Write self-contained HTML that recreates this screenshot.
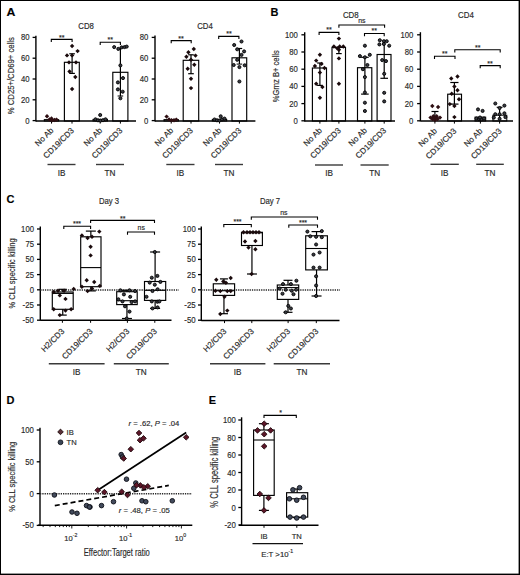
<!DOCTYPE html>
<html><head><meta charset="utf-8"><style>
html,body{margin:0;padding:0;background:#fff;}
body{width:520px;height:575px;overflow:hidden;}
svg{display:block;font-family:"Liberation Sans", sans-serif;}
text{stroke:#2a2a2a;stroke-width:0.16px;}
</style></head><body>
<svg width="520" height="575" viewBox="0 0 520 575">
<rect x="0" y="0" width="520" height="575" fill="#fff"/>
<rect x="0" y="0" width="520" height="1" fill="#000"/>
<rect x="0" y="0" width="1" height="575" fill="#000"/>
<rect x="518.6" y="0" width="1.4" height="575" fill="#000"/>
<rect x="0" y="573.6" width="520" height="1.4" fill="#000"/>
<text x="6.6" y="16.2" font-size="11.3" text-anchor="start" font-weight="bold" fill="#000" textLength="8.9" lengthAdjust="spacingAndGlyphs">A</text>
<text x="270.6" y="16.2" font-size="11" text-anchor="start" font-weight="bold" fill="#000">B</text>
<text x="6.6" y="203.2" font-size="11" text-anchor="start" font-weight="bold" fill="#000">C</text>
<text x="6.6" y="403.8" font-size="11" text-anchor="start" font-weight="bold" fill="#000">D</text>
<text x="208.8" y="403.8" font-size="11" text-anchor="start" font-weight="bold" fill="#000">E</text>
<text x="86.1" y="29" font-size="8.4" text-anchor="middle" font-weight="normal" fill="#2a2a2a" textLength="15.6" lengthAdjust="spacingAndGlyphs">CD8</text>
<line x1="35.9" y1="35.8" x2="35.9" y2="121.6" stroke="#000" stroke-width="1.4" stroke-linecap="butt"/>
<line x1="32.6" y1="120.6" x2="35.9" y2="120.6" stroke="#000" stroke-width="1.3" stroke-linecap="butt"/>
<text x="29.5" y="123.6" font-size="9" text-anchor="end" font-weight="normal" fill="#2a2a2a" textLength="4.3" lengthAdjust="spacingAndGlyphs">0</text>
<line x1="32.6" y1="99.8" x2="35.9" y2="99.8" stroke="#000" stroke-width="1.3" stroke-linecap="butt"/>
<text x="29.5" y="102.8" font-size="9" text-anchor="end" font-weight="normal" fill="#2a2a2a" textLength="8.6" lengthAdjust="spacingAndGlyphs">20</text>
<line x1="32.6" y1="79" x2="35.9" y2="79" stroke="#000" stroke-width="1.3" stroke-linecap="butt"/>
<text x="29.5" y="82" font-size="9" text-anchor="end" font-weight="normal" fill="#2a2a2a" textLength="8.6" lengthAdjust="spacingAndGlyphs">40</text>
<line x1="32.6" y1="58.2" x2="35.9" y2="58.2" stroke="#000" stroke-width="1.3" stroke-linecap="butt"/>
<text x="29.5" y="61.2" font-size="9" text-anchor="end" font-weight="normal" fill="#2a2a2a" textLength="8.6" lengthAdjust="spacingAndGlyphs">60</text>
<line x1="32.6" y1="37.4" x2="35.9" y2="37.4" stroke="#000" stroke-width="1.3" stroke-linecap="butt"/>
<text x="29.5" y="40.4" font-size="9" text-anchor="end" font-weight="normal" fill="#2a2a2a" textLength="8.6" lengthAdjust="spacingAndGlyphs">80</text>
<rect x="44.3" y="119.6" width="14.4" height="1.4" fill="none" stroke="#000" stroke-width="1"/>
<rect x="93" y="119.4" width="14.5" height="1.6" fill="none" stroke="#000" stroke-width="1"/>
<rect x="64.4" y="62.3" width="14.9" height="58.7" fill="none" stroke="#000" stroke-width="1.15"/>
<rect x="112.8" y="72.3" width="15.1" height="48.7" fill="none" stroke="#000" stroke-width="1.15"/>
<line x1="35.9" y1="121" x2="136" y2="121" stroke="#000" stroke-width="1.4" stroke-linecap="butt"/>
<line x1="51.5" y1="121" x2="51.5" y2="123.6" stroke="#000" stroke-width="1" stroke-linecap="butt"/>
<line x1="72" y1="121" x2="72" y2="123.6" stroke="#000" stroke-width="1" stroke-linecap="butt"/>
<line x1="100.2" y1="121" x2="100.2" y2="123.6" stroke="#000" stroke-width="1" stroke-linecap="butt"/>
<line x1="120.4" y1="121" x2="120.4" y2="123.6" stroke="#000" stroke-width="1" stroke-linecap="butt"/>
<line x1="72.1" y1="53.8" x2="72.1" y2="73.4" stroke="#000" stroke-width="1.2" stroke-linecap="butt"/>
<line x1="69.3" y1="53.8" x2="74.9" y2="53.8" stroke="#000" stroke-width="1.2" stroke-linecap="butt"/>
<line x1="69.3" y1="73.4" x2="74.9" y2="73.4" stroke="#000" stroke-width="1.2" stroke-linecap="butt"/>
<line x1="120.4" y1="47.4" x2="120.4" y2="96" stroke="#000" stroke-width="1.2" stroke-linecap="butt"/>
<line x1="117.6" y1="96" x2="123.2" y2="96" stroke="#000" stroke-width="1" stroke-linecap="butt"/>
<path d="M72.1 43.8L74.3 46L72.1 48.2L69.9 46Z" fill="#1a0a0c"/>
<path d="M77.6 48.9L79.8 51.1L77.6 53.3L75.4 51.1Z" fill="#1a0a0c"/>
<path d="M67 53.2L69.2 55.4L67 57.6L64.8 55.4Z" fill="#1a0a0c"/>
<path d="M72.1 53.2L74.3 55.4L72.1 57.6L69.9 55.4Z" fill="#1a0a0c"/>
<path d="M69 60.2L71.2 62.4L69 64.6L66.8 62.4Z" fill="#1a0a0c"/>
<path d="M76 60.2L78.2 62.4L76 64.6L73.8 62.4Z" fill="#1a0a0c"/>
<path d="M69.5 69.3L71.7 71.5L69.5 73.7L67.3 71.5Z" fill="#1a0a0c"/>
<path d="M75.3 74.8L77.5 77L75.3 79.2L73.1 77Z" fill="#1a0a0c"/>
<path d="M72.1 86.8L74.3 89L72.1 91.2L69.9 89Z" fill="#1a0a0c"/>
<path d="M47 114L49.2 116.2L47 118.4L44.8 116.2Z" fill="#2e0e12"/>
<path d="M49.5 117.3L51.7 119.5L49.5 121.7L47.3 119.5Z" fill="#2e0e12"/>
<path d="M52 118.1L54.2 120.3L52 122.5L49.8 120.3Z" fill="#2e0e12"/>
<path d="M54.5 117.8L56.7 120L54.5 122.2L52.3 120Z" fill="#2e0e12"/>
<path d="M56.5 117.4L58.7 119.6L56.5 121.8L54.3 119.6Z" fill="#2e0e12"/>
<path d="M51.5 116.3L53.7 118.5L51.5 120.7L49.3 118.5Z" fill="#2e0e12"/>
<circle cx="114.2" cy="47.1" r="1.55" fill="#3a3c44" stroke="#000" stroke-width="0.9"/>
<circle cx="118.3" cy="48.9" r="1.55" fill="#3a3c44" stroke="#000" stroke-width="0.9"/>
<circle cx="121.6" cy="47.4" r="1.55" fill="#3a3c44" stroke="#000" stroke-width="0.9"/>
<circle cx="124.5" cy="47.1" r="1.55" fill="#3a3c44" stroke="#000" stroke-width="0.9"/>
<circle cx="126.7" cy="46.6" r="1.55" fill="#3a3c44" stroke="#000" stroke-width="0.9"/>
<circle cx="120.4" cy="65.4" r="1.55" fill="#3a3c44" stroke="#000" stroke-width="0.9"/>
<circle cx="123" cy="78.1" r="1.55" fill="#3a3c44" stroke="#000" stroke-width="0.9"/>
<circle cx="117.9" cy="82.4" r="1.55" fill="#3a3c44" stroke="#000" stroke-width="0.9"/>
<circle cx="117.9" cy="89.4" r="1.55" fill="#3a3c44" stroke="#000" stroke-width="0.9"/>
<circle cx="122.7" cy="91.7" r="1.55" fill="#3a3c44" stroke="#000" stroke-width="0.9"/>
<circle cx="120.4" cy="98.3" r="1.55" fill="#3a3c44" stroke="#000" stroke-width="0.9"/>
<circle cx="100.2" cy="115" r="1.55" fill="#3a3c44" stroke="#000" stroke-width="0.9"/>
<circle cx="95.5" cy="119.3" r="1.55" fill="#3a3c44" stroke="#000" stroke-width="0.9"/>
<circle cx="98" cy="120.3" r="1.55" fill="#3a3c44" stroke="#000" stroke-width="0.9"/>
<circle cx="100.5" cy="120.6" r="1.55" fill="#3a3c44" stroke="#000" stroke-width="0.9"/>
<circle cx="103" cy="120.2" r="1.55" fill="#3a3c44" stroke="#000" stroke-width="0.9"/>
<circle cx="105.5" cy="119.3" r="1.55" fill="#3a3c44" stroke="#000" stroke-width="0.9"/>
<polyline points="51.3,42.1 51.3,39.4 72.1,39.4 72.1,42.1" fill="none" stroke="#000" stroke-width="1.1"/>
<text x="61.7" y="39.6" font-size="7" text-anchor="middle" font-weight="normal" fill="#222">**</text>
<polyline points="100.2,45 100.2,42.3 120.4,42.3 120.4,45" fill="none" stroke="#000" stroke-width="1.1"/>
<text x="110.3" y="42.2" font-size="7" text-anchor="middle" font-weight="normal" fill="#222">**</text>
<text x="54.1" y="131" font-size="8.2" text-anchor="end" font-weight="normal" fill="#2a2a2a" transform="rotate(-45 54.1 131)">No Ab</text>
<text x="74.6" y="131" font-size="8.2" text-anchor="end" font-weight="normal" fill="#2a2a2a" transform="rotate(-45 74.6 131)">CD19/CD3</text>
<text x="102.8" y="131" font-size="8.2" text-anchor="end" font-weight="normal" fill="#2a2a2a" transform="rotate(-45 102.8 131)">No Ab</text>
<text x="123" y="131" font-size="8.2" text-anchor="end" font-weight="normal" fill="#2a2a2a" transform="rotate(-45 123 131)">CD19/CD3</text>
<line x1="47.5" y1="164.5" x2="75.5" y2="164.5" stroke="#3a3a3a" stroke-width="1.4" stroke-linecap="butt"/>
<text x="61.5" y="176" font-size="8.2" text-anchor="middle" font-weight="normal" fill="#2a2a2a">IB</text>
<line x1="96" y1="164.5" x2="124" y2="164.5" stroke="#3a3a3a" stroke-width="1.4" stroke-linecap="butt"/>
<text x="110" y="176" font-size="8.2" text-anchor="middle" font-weight="normal" fill="#2a2a2a">TN</text>
<text x="14.2" y="75.7" font-size="8.8" text-anchor="middle" font-weight="normal" fill="#2a2a2a" transform="rotate(-90 14.2 75.7)" textLength="77" lengthAdjust="spacingAndGlyphs">% CD25+/CD69+ cells</text>
<text x="205" y="29" font-size="8.4" text-anchor="middle" font-weight="normal" fill="#2a2a2a" textLength="15.6" lengthAdjust="spacingAndGlyphs">CD4</text>
<line x1="155" y1="35.5" x2="155" y2="121.6" stroke="#000" stroke-width="1.4" stroke-linecap="butt"/>
<line x1="151.7" y1="120.6" x2="155" y2="120.6" stroke="#000" stroke-width="1.3" stroke-linecap="butt"/>
<text x="148.4" y="123.6" font-size="9" text-anchor="end" font-weight="normal" fill="#2a2a2a" textLength="4.3" lengthAdjust="spacingAndGlyphs">0</text>
<line x1="151.7" y1="99.8" x2="155" y2="99.8" stroke="#000" stroke-width="1.3" stroke-linecap="butt"/>
<text x="148.4" y="102.8" font-size="9" text-anchor="end" font-weight="normal" fill="#2a2a2a" textLength="8.6" lengthAdjust="spacingAndGlyphs">20</text>
<line x1="151.7" y1="79" x2="155" y2="79" stroke="#000" stroke-width="1.3" stroke-linecap="butt"/>
<text x="148.4" y="82" font-size="9" text-anchor="end" font-weight="normal" fill="#2a2a2a" textLength="8.6" lengthAdjust="spacingAndGlyphs">40</text>
<line x1="151.7" y1="58.2" x2="155" y2="58.2" stroke="#000" stroke-width="1.3" stroke-linecap="butt"/>
<text x="148.4" y="61.2" font-size="9" text-anchor="end" font-weight="normal" fill="#2a2a2a" textLength="8.6" lengthAdjust="spacingAndGlyphs">60</text>
<line x1="151.7" y1="37.4" x2="155" y2="37.4" stroke="#000" stroke-width="1.3" stroke-linecap="butt"/>
<text x="148.4" y="40.4" font-size="9" text-anchor="end" font-weight="normal" fill="#2a2a2a" textLength="8.6" lengthAdjust="spacingAndGlyphs">80</text>
<rect x="164" y="119.6" width="14.4" height="1.4" fill="none" stroke="#000" stroke-width="1"/>
<rect x="212.3" y="119.4" width="14.4" height="1.6" fill="none" stroke="#000" stroke-width="1"/>
<rect x="183.2" y="60.3" width="15.5" height="60.7" fill="none" stroke="#000" stroke-width="1.15"/>
<rect x="232" y="57.8" width="14.7" height="63.2" fill="none" stroke="#000" stroke-width="1.15"/>
<line x1="155" y1="121" x2="255.4" y2="121" stroke="#000" stroke-width="1.4" stroke-linecap="butt"/>
<line x1="171.2" y1="121" x2="171.2" y2="123.6" stroke="#000" stroke-width="1" stroke-linecap="butt"/>
<line x1="191" y1="121" x2="191" y2="123.6" stroke="#000" stroke-width="1" stroke-linecap="butt"/>
<line x1="219.5" y1="121" x2="219.5" y2="123.6" stroke="#000" stroke-width="1" stroke-linecap="butt"/>
<line x1="239.4" y1="121" x2="239.4" y2="123.6" stroke="#000" stroke-width="1" stroke-linecap="butt"/>
<line x1="191" y1="54.8" x2="191" y2="73.7" stroke="#000" stroke-width="1.2" stroke-linecap="butt"/>
<line x1="188.2" y1="54.8" x2="193.8" y2="54.8" stroke="#000" stroke-width="1.2" stroke-linecap="butt"/>
<line x1="188.2" y1="73.7" x2="193.8" y2="73.7" stroke="#000" stroke-width="1.2" stroke-linecap="butt"/>
<line x1="239.4" y1="48.5" x2="239.4" y2="64.1" stroke="#000" stroke-width="1.2" stroke-linecap="butt"/>
<line x1="236.6" y1="48.5" x2="242.2" y2="48.5" stroke="#000" stroke-width="1.2" stroke-linecap="butt"/>
<line x1="236.6" y1="64.1" x2="242.2" y2="64.1" stroke="#000" stroke-width="1" stroke-linecap="butt"/>
<path d="M193.8 46.8L196 49L193.8 51.2L191.6 49Z" fill="#1a0a0c"/>
<path d="M188.4 50.1L190.6 52.3L188.4 54.5L186.2 52.3Z" fill="#1a0a0c"/>
<path d="M195.5 53.4L197.7 55.6L195.5 57.8L193.3 55.6Z" fill="#1a0a0c"/>
<path d="M186.4 54.5L188.6 56.7L186.4 58.9L184.2 56.7Z" fill="#1a0a0c"/>
<path d="M191 57.5L193.2 59.7L191 61.9L188.8 59.7Z" fill="#1a0a0c"/>
<path d="M194.3 62.5L196.5 64.7L194.3 66.9L192.1 64.7Z" fill="#1a0a0c"/>
<path d="M187.7 66.6L189.9 68.8L187.7 71L185.5 68.8Z" fill="#1a0a0c"/>
<path d="M191 76.5L193.2 78.7L191 80.9L188.8 78.7Z" fill="#1a0a0c"/>
<path d="M191 85.9L193.2 88.1L191 90.3L188.8 88.1Z" fill="#1a0a0c"/>
<path d="M166.6 114.4L168.8 116.6L166.6 118.8L164.4 116.6Z" fill="#2e0e12"/>
<path d="M169 117.2L171.2 119.4L169 121.6L166.8 119.4Z" fill="#2e0e12"/>
<path d="M171.5 118.1L173.7 120.3L171.5 122.5L169.3 120.3Z" fill="#2e0e12"/>
<path d="M174 118L176.2 120.2L174 122.4L171.8 120.2Z" fill="#2e0e12"/>
<path d="M176.3 117.4L178.5 119.6L176.3 121.8L174.1 119.6Z" fill="#2e0e12"/>
<circle cx="241.5" cy="41.5" r="1.55" fill="#3a3c44" stroke="#000" stroke-width="0.9"/>
<circle cx="234.2" cy="45" r="1.55" fill="#3a3c44" stroke="#000" stroke-width="0.9"/>
<circle cx="237.2" cy="49.3" r="1.55" fill="#3a3c44" stroke="#000" stroke-width="0.9"/>
<circle cx="244.1" cy="51.4" r="1.55" fill="#3a3c44" stroke="#000" stroke-width="0.9"/>
<circle cx="241.5" cy="54.9" r="1.55" fill="#3a3c44" stroke="#000" stroke-width="0.9"/>
<circle cx="237.2" cy="59.8" r="1.55" fill="#3a3c44" stroke="#000" stroke-width="0.9"/>
<circle cx="233.7" cy="65" r="1.55" fill="#3a3c44" stroke="#000" stroke-width="0.9"/>
<circle cx="239.4" cy="67.1" r="1.55" fill="#3a3c44" stroke="#000" stroke-width="0.9"/>
<circle cx="244.7" cy="65.3" r="1.55" fill="#3a3c44" stroke="#000" stroke-width="0.9"/>
<circle cx="239.4" cy="81.5" r="1.55" fill="#3a3c44" stroke="#000" stroke-width="0.9"/>
<circle cx="220.7" cy="116.3" r="1.55" fill="#3a3c44" stroke="#000" stroke-width="0.9"/>
<circle cx="214.5" cy="119.5" r="1.55" fill="#3a3c44" stroke="#000" stroke-width="0.9"/>
<circle cx="217" cy="120.3" r="1.55" fill="#3a3c44" stroke="#000" stroke-width="0.9"/>
<circle cx="219.5" cy="120.5" r="1.55" fill="#3a3c44" stroke="#000" stroke-width="0.9"/>
<circle cx="222" cy="119.4" r="1.55" fill="#3a3c44" stroke="#000" stroke-width="0.9"/>
<circle cx="224.5" cy="118.6" r="1.55" fill="#3a3c44" stroke="#000" stroke-width="0.9"/>
<polyline points="171.2,43.3 171.2,40.6 191.2,40.6 191.2,43.3" fill="none" stroke="#000" stroke-width="1.1"/>
<text x="181.1" y="40.6" font-size="7" text-anchor="middle" font-weight="normal" fill="#222">**</text>
<polyline points="218.7,39.1 218.7,36.4 238.9,36.4 238.9,39.1" fill="none" stroke="#000" stroke-width="1.1"/>
<text x="229" y="36.4" font-size="7" text-anchor="middle" font-weight="normal" fill="#222">**</text>
<text x="173.8" y="131" font-size="8.2" text-anchor="end" font-weight="normal" fill="#2a2a2a" transform="rotate(-45 173.8 131)">No Ab</text>
<text x="193.6" y="131" font-size="8.2" text-anchor="end" font-weight="normal" fill="#2a2a2a" transform="rotate(-45 193.6 131)">CD19/CD3</text>
<text x="222.1" y="131" font-size="8.2" text-anchor="end" font-weight="normal" fill="#2a2a2a" transform="rotate(-45 222.1 131)">No Ab</text>
<text x="242" y="131" font-size="8.2" text-anchor="end" font-weight="normal" fill="#2a2a2a" transform="rotate(-45 242 131)">CD19/CD3</text>
<line x1="166.3" y1="164.5" x2="194.5" y2="164.5" stroke="#3a3a3a" stroke-width="1.4" stroke-linecap="butt"/>
<text x="180.4" y="176" font-size="8.2" text-anchor="middle" font-weight="normal" fill="#2a2a2a">IB</text>
<line x1="215" y1="164.5" x2="243" y2="164.5" stroke="#3a3a3a" stroke-width="1.4" stroke-linecap="butt"/>
<text x="229" y="176" font-size="8.2" text-anchor="middle" font-weight="normal" fill="#2a2a2a">TN</text>
<text x="350.8" y="17.6" font-size="8.4" text-anchor="middle" font-weight="normal" fill="#2a2a2a" textLength="15.8" lengthAdjust="spacingAndGlyphs">CD8</text>
<text x="361.8" y="23" font-size="6.9" text-anchor="middle" font-weight="normal" fill="#2a2a2a">ns</text>
<line x1="304.7" y1="32.2" x2="304.7" y2="121.6" stroke="#000" stroke-width="1.4" stroke-linecap="butt"/>
<line x1="301.4" y1="120.8" x2="304.7" y2="120.8" stroke="#000" stroke-width="1.3" stroke-linecap="butt"/>
<text x="297.8" y="123.8" font-size="9" text-anchor="end" font-weight="normal" fill="#2a2a2a" textLength="4.3" lengthAdjust="spacingAndGlyphs">0</text>
<line x1="301.4" y1="103.6" x2="304.7" y2="103.6" stroke="#000" stroke-width="1.3" stroke-linecap="butt"/>
<text x="297.8" y="106.6" font-size="9" text-anchor="end" font-weight="normal" fill="#2a2a2a" textLength="8.6" lengthAdjust="spacingAndGlyphs">20</text>
<line x1="301.4" y1="86.4" x2="304.7" y2="86.4" stroke="#000" stroke-width="1.3" stroke-linecap="butt"/>
<text x="297.8" y="89.4" font-size="9" text-anchor="end" font-weight="normal" fill="#2a2a2a" textLength="8.6" lengthAdjust="spacingAndGlyphs">40</text>
<line x1="301.4" y1="69.2" x2="304.7" y2="69.2" stroke="#000" stroke-width="1.3" stroke-linecap="butt"/>
<text x="297.8" y="72.2" font-size="9" text-anchor="end" font-weight="normal" fill="#2a2a2a" textLength="8.6" lengthAdjust="spacingAndGlyphs">60</text>
<line x1="301.4" y1="52" x2="304.7" y2="52" stroke="#000" stroke-width="1.3" stroke-linecap="butt"/>
<text x="297.8" y="55" font-size="9" text-anchor="end" font-weight="normal" fill="#2a2a2a" textLength="8.6" lengthAdjust="spacingAndGlyphs">80</text>
<line x1="301.4" y1="34.8" x2="304.7" y2="34.8" stroke="#000" stroke-width="1.3" stroke-linecap="butt"/>
<text x="297.8" y="37.8" font-size="9" text-anchor="end" font-weight="normal" fill="#2a2a2a" textLength="12.9" lengthAdjust="spacingAndGlyphs">100</text>
<rect x="312.4" y="68" width="14.1" height="53" fill="none" stroke="#000" stroke-width="1.15"/>
<rect x="332" y="47.4" width="13.5" height="73.6" fill="none" stroke="#000" stroke-width="1.15"/>
<rect x="357.5" y="67.7" width="14.3" height="53.3" fill="none" stroke="#000" stroke-width="1.15"/>
<rect x="377.1" y="54.5" width="13.9" height="66.5" fill="none" stroke="#000" stroke-width="1.15"/>
<line x1="304.5" y1="121" x2="395" y2="121" stroke="#000" stroke-width="1.4" stroke-linecap="butt"/>
<line x1="319.9" y1="121" x2="319.9" y2="123.6" stroke="#000" stroke-width="1" stroke-linecap="butt"/>
<line x1="338.9" y1="121" x2="338.9" y2="123.6" stroke="#000" stroke-width="1" stroke-linecap="butt"/>
<line x1="364.9" y1="121" x2="364.9" y2="123.6" stroke="#000" stroke-width="1" stroke-linecap="butt"/>
<line x1="384.2" y1="121" x2="384.2" y2="123.6" stroke="#000" stroke-width="1" stroke-linecap="butt"/>
<line x1="319.9" y1="63" x2="319.9" y2="85.4" stroke="#000" stroke-width="1.2" stroke-linecap="butt"/>
<line x1="317.1" y1="63" x2="322.7" y2="63" stroke="#000" stroke-width="1.2" stroke-linecap="butt"/>
<line x1="317.1" y1="85.4" x2="322.7" y2="85.4" stroke="#000" stroke-width="1.2" stroke-linecap="butt"/>
<line x1="338.9" y1="47.4" x2="338.9" y2="53.6" stroke="#000" stroke-width="1.2" stroke-linecap="butt"/>
<line x1="336.1" y1="53.6" x2="341.7" y2="53.6" stroke="#000" stroke-width="1.2" stroke-linecap="butt"/>
<line x1="364.9" y1="57.3" x2="364.9" y2="94.1" stroke="#000" stroke-width="1.2" stroke-linecap="butt"/>
<line x1="361.1" y1="57.3" x2="368.7" y2="57.3" stroke="#000" stroke-width="1.2" stroke-linecap="butt"/>
<line x1="361.1" y1="94.1" x2="368.7" y2="94.1" stroke="#000" stroke-width="1.2" stroke-linecap="butt"/>
<line x1="384.2" y1="45" x2="384.2" y2="78.3" stroke="#000" stroke-width="1.2" stroke-linecap="butt"/>
<line x1="380.4" y1="78.3" x2="388" y2="78.3" stroke="#000" stroke-width="1.2" stroke-linecap="butt"/>
<path d="M319.9 52.6L322.1 54.8L319.9 57L317.7 54.8Z" fill="#1a0a0c"/>
<path d="M316.2 58.4L318.4 60.6L316.2 62.8L314 60.6Z" fill="#1a0a0c"/>
<path d="M321.5 61.7L323.7 63.9L321.5 66.1L319.3 63.9Z" fill="#1a0a0c"/>
<path d="M314.9 63.8L317.1 66L314.9 68.2L312.7 66Z" fill="#1a0a0c"/>
<path d="M324.5 65.8L326.7 68L324.5 70.2L322.3 68Z" fill="#1a0a0c"/>
<path d="M319.9 70.4L322.1 72.6L319.9 74.8L317.7 72.6Z" fill="#1a0a0c"/>
<path d="M316.2 81.5L318.4 83.7L316.2 85.9L314 83.7Z" fill="#1a0a0c"/>
<path d="M322.4 84.8L324.6 87L322.4 89.2L320.2 87Z" fill="#1a0a0c"/>
<path d="M319.9 95.6L322.1 97.8L319.9 100L317.7 97.8Z" fill="#1a0a0c"/>
<path d="M338.9 36.4L341.1 38.6L338.9 40.8L336.7 38.6Z" fill="#1a0a0c"/>
<path d="M333.9 44.3L336.1 46.5L333.9 48.7L331.7 46.5Z" fill="#1a0a0c"/>
<path d="M337.2 46L339.4 48.2L337.2 50.4L335 48.2Z" fill="#1a0a0c"/>
<path d="M339.7 44.3L341.9 46.5L339.7 48.7L337.5 46.5Z" fill="#1a0a0c"/>
<path d="M343.3 44.3L345.5 46.5L343.3 48.7L341.1 46.5Z" fill="#1a0a0c"/>
<path d="M338.9 47.6L341.1 49.8L338.9 52L336.7 49.8Z" fill="#1a0a0c"/>
<path d="M338.9 56.2L341.1 58.4L338.9 60.6L336.7 58.4Z" fill="#1a0a0c"/>
<path d="M338.9 81.5L341.1 83.7L338.9 85.9L336.7 83.7Z" fill="#1a0a0c"/>
<circle cx="364.9" cy="45.7" r="1.55" fill="#3a3c44" stroke="#000" stroke-width="0.9"/>
<circle cx="359.9" cy="56.1" r="1.55" fill="#3a3c44" stroke="#000" stroke-width="0.9"/>
<circle cx="364.9" cy="57.3" r="1.55" fill="#3a3c44" stroke="#000" stroke-width="0.9"/>
<circle cx="369.8" cy="54.8" r="1.55" fill="#3a3c44" stroke="#000" stroke-width="0.9"/>
<circle cx="367.4" cy="65" r="1.55" fill="#3a3c44" stroke="#000" stroke-width="0.9"/>
<circle cx="362.9" cy="69.2" r="1.55" fill="#3a3c44" stroke="#000" stroke-width="0.9"/>
<circle cx="364.9" cy="77.1" r="1.55" fill="#3a3c44" stroke="#000" stroke-width="0.9"/>
<circle cx="364.9" cy="92.5" r="1.55" fill="#3a3c44" stroke="#000" stroke-width="0.9"/>
<circle cx="364.9" cy="102.7" r="1.55" fill="#3a3c44" stroke="#000" stroke-width="0.9"/>
<circle cx="364.9" cy="111" r="1.55" fill="#3a3c44" stroke="#000" stroke-width="0.9"/>
<circle cx="379.8" cy="40.2" r="1.55" fill="#3a3c44" stroke="#000" stroke-width="0.9"/>
<circle cx="383.9" cy="41.2" r="1.55" fill="#3a3c44" stroke="#000" stroke-width="0.9"/>
<circle cx="386.7" cy="41.2" r="1.55" fill="#3a3c44" stroke="#000" stroke-width="0.9"/>
<circle cx="379.4" cy="44.4" r="1.55" fill="#3a3c44" stroke="#000" stroke-width="0.9"/>
<circle cx="383.9" cy="44" r="1.55" fill="#3a3c44" stroke="#000" stroke-width="0.9"/>
<circle cx="389.2" cy="45.7" r="1.55" fill="#3a3c44" stroke="#000" stroke-width="0.9"/>
<circle cx="382.2" cy="60.1" r="1.55" fill="#3a3c44" stroke="#000" stroke-width="0.9"/>
<circle cx="386" cy="61.1" r="1.55" fill="#3a3c44" stroke="#000" stroke-width="0.9"/>
<circle cx="384.2" cy="73.8" r="1.55" fill="#3a3c44" stroke="#000" stroke-width="0.9"/>
<circle cx="384.2" cy="92.8" r="1.55" fill="#3a3c44" stroke="#000" stroke-width="0.9"/>
<circle cx="384.2" cy="101.4" r="1.55" fill="#3a3c44" stroke="#000" stroke-width="0.9"/>
<polyline points="319.1,35.1 319.1,32.4 338.9,32.4 338.9,35.1" fill="none" stroke="#000" stroke-width="1.1"/>
<text x="329" y="31.8" font-size="7" text-anchor="middle" font-weight="normal" fill="#222">**</text>
<polyline points="338.9,27.7 338.9,25 384.6,25 384.6,27.7" fill="none" stroke="#000" stroke-width="1.1"/>
<polyline points="364.5,36.2 364.5,33.5 384.2,33.5 384.2,36.2" fill="none" stroke="#000" stroke-width="1.1"/>
<text x="374.3" y="33.2" font-size="7" text-anchor="middle" font-weight="normal" fill="#222">**</text>
<text x="322.5" y="131" font-size="8.2" text-anchor="end" font-weight="normal" fill="#2a2a2a" transform="rotate(-45 322.5 131)">No Ab</text>
<text x="341.5" y="131" font-size="8.2" text-anchor="end" font-weight="normal" fill="#2a2a2a" transform="rotate(-45 341.5 131)">CD19/CD3</text>
<text x="367.5" y="131" font-size="8.2" text-anchor="end" font-weight="normal" fill="#2a2a2a" transform="rotate(-45 367.5 131)">No Ab</text>
<text x="386.8" y="131" font-size="8.2" text-anchor="end" font-weight="normal" fill="#2a2a2a" transform="rotate(-45 386.8 131)">CD19/CD3</text>
<line x1="315" y1="165" x2="343" y2="165" stroke="#3a3a3a" stroke-width="1.4" stroke-linecap="butt"/>
<text x="329" y="176.3" font-size="8.2" text-anchor="middle" font-weight="normal" fill="#2a2a2a">IB</text>
<line x1="360.5" y1="165" x2="388.7" y2="165" stroke="#3a3a3a" stroke-width="1.4" stroke-linecap="butt"/>
<text x="374.6" y="176.3" font-size="8.2" text-anchor="middle" font-weight="normal" fill="#2a2a2a">TN</text>
<text x="279.2" y="76.3" font-size="9.2" text-anchor="middle" font-weight="normal" fill="#2a2a2a" transform="rotate(-90 279.2 76.3)" textLength="52" lengthAdjust="spacingAndGlyphs">%Grnz B+ cells</text>
<text x="466" y="17.6" font-size="8.4" text-anchor="middle" font-weight="normal" fill="#2a2a2a" textLength="15.8" lengthAdjust="spacingAndGlyphs">CD4</text>
<line x1="420.4" y1="32.2" x2="420.4" y2="121.6" stroke="#000" stroke-width="1.4" stroke-linecap="butt"/>
<line x1="417.1" y1="120.8" x2="420.4" y2="120.8" stroke="#000" stroke-width="1.3" stroke-linecap="butt"/>
<text x="413.3" y="123.8" font-size="9" text-anchor="end" font-weight="normal" fill="#2a2a2a" textLength="4.3" lengthAdjust="spacingAndGlyphs">0</text>
<line x1="417.1" y1="103.6" x2="420.4" y2="103.6" stroke="#000" stroke-width="1.3" stroke-linecap="butt"/>
<text x="413.3" y="106.6" font-size="9" text-anchor="end" font-weight="normal" fill="#2a2a2a" textLength="8.6" lengthAdjust="spacingAndGlyphs">20</text>
<line x1="417.1" y1="86.4" x2="420.4" y2="86.4" stroke="#000" stroke-width="1.3" stroke-linecap="butt"/>
<text x="413.3" y="89.4" font-size="9" text-anchor="end" font-weight="normal" fill="#2a2a2a" textLength="8.6" lengthAdjust="spacingAndGlyphs">40</text>
<line x1="417.1" y1="69.2" x2="420.4" y2="69.2" stroke="#000" stroke-width="1.3" stroke-linecap="butt"/>
<text x="413.3" y="72.2" font-size="9" text-anchor="end" font-weight="normal" fill="#2a2a2a" textLength="8.6" lengthAdjust="spacingAndGlyphs">60</text>
<line x1="417.1" y1="52" x2="420.4" y2="52" stroke="#000" stroke-width="1.3" stroke-linecap="butt"/>
<text x="413.3" y="55" font-size="9" text-anchor="end" font-weight="normal" fill="#2a2a2a" textLength="8.6" lengthAdjust="spacingAndGlyphs">80</text>
<line x1="417.1" y1="34.8" x2="420.4" y2="34.8" stroke="#000" stroke-width="1.3" stroke-linecap="butt"/>
<text x="413.3" y="37.8" font-size="9" text-anchor="end" font-weight="normal" fill="#2a2a2a" textLength="12.9" lengthAdjust="spacingAndGlyphs">100</text>
<rect x="447.7" y="94.2" width="13.8" height="26.8" fill="none" stroke="#000" stroke-width="1.15"/>
<rect x="475" y="117.1" width="10.7" height="3.9" fill="none" stroke="#000" stroke-width="1"/>
<rect x="492.9" y="115.2" width="13.9" height="5.8" fill="none" stroke="#000" stroke-width="1"/>
<line x1="421" y1="121" x2="513" y2="121" stroke="#000" stroke-width="1.4" stroke-linecap="butt"/>
<line x1="434.9" y1="121" x2="434.9" y2="123.6" stroke="#000" stroke-width="1" stroke-linecap="butt"/>
<line x1="454.4" y1="121" x2="454.4" y2="123.6" stroke="#000" stroke-width="1" stroke-linecap="butt"/>
<line x1="480.4" y1="121" x2="480.4" y2="123.6" stroke="#000" stroke-width="1" stroke-linecap="butt"/>
<line x1="499.6" y1="121" x2="499.6" y2="123.6" stroke="#000" stroke-width="1" stroke-linecap="butt"/>
<line x1="434.9" y1="111.5" x2="434.9" y2="120" stroke="#000" stroke-width="1.2" stroke-linecap="butt"/>
<line x1="431.5" y1="111.5" x2="438.5" y2="111.5" stroke="#000" stroke-width="1.2" stroke-linecap="butt"/>
<line x1="454.4" y1="82.5" x2="454.4" y2="104.1" stroke="#000" stroke-width="1.2" stroke-linecap="butt"/>
<line x1="450.3" y1="82.5" x2="458.5" y2="82.5" stroke="#000" stroke-width="1.2" stroke-linecap="butt"/>
<line x1="450.3" y1="104.1" x2="458.5" y2="104.1" stroke="#000" stroke-width="1.2" stroke-linecap="butt"/>
<line x1="499.6" y1="107.3" x2="499.6" y2="119" stroke="#000" stroke-width="1.2" stroke-linecap="butt"/>
<line x1="496.7" y1="107.3" x2="502.5" y2="107.3" stroke="#000" stroke-width="1.2" stroke-linecap="butt"/>
<path d="M451.25 76.3L453.45 78.5L451.25 80.7L449.05 78.5Z" fill="#1a0a0c"/>
<path d="M457.5 74.3L459.7 76.5L457.5 78.7L455.3 76.5Z" fill="#1a0a0c"/>
<path d="M454.4 84.3L456.6 86.5L454.4 88.7L452.2 86.5Z" fill="#1a0a0c"/>
<path d="M457.5 88L459.7 90.2L457.5 92.4L455.3 90.2Z" fill="#1a0a0c"/>
<path d="M451.7 91.6L453.9 93.8L451.7 96L449.5 93.8Z" fill="#1a0a0c"/>
<path d="M459 97.1L461.2 99.3L459 101.5L456.8 99.3Z" fill="#1a0a0c"/>
<path d="M449.8 101.9L452 104.1L449.8 106.3L447.6 104.1Z" fill="#1a0a0c"/>
<path d="M454.4 103.8L456.6 106L454.4 108.2L452.2 106Z" fill="#1a0a0c"/>
<path d="M454.4 114.9L456.6 117.1L454.4 119.3L452.2 117.1Z" fill="#1a0a0c"/>
<path d="M432.3 103.8L434.5 106L432.3 108.2L430.1 106Z" fill="#2e0e12"/>
<path d="M438.1 104.8L440.3 107L438.1 109.2L435.9 107Z" fill="#2e0e12"/>
<path d="M430.5 115.4L432.7 117.6L430.5 119.8L428.3 117.6Z" fill="#2e0e12"/>
<path d="M432.5 116.8L434.7 119L432.5 121.2L430.3 119Z" fill="#2e0e12"/>
<path d="M435 117.8L437.2 120L435 122.2L432.8 120Z" fill="#2e0e12"/>
<path d="M437.5 116.8L439.7 119L437.5 121.2L435.3 119Z" fill="#2e0e12"/>
<path d="M440 115.4L442.2 117.6L440 119.8L437.8 117.6Z" fill="#2e0e12"/>
<path d="M433.3 114.1L435.5 116.3L433.3 118.5L431.1 116.3Z" fill="#2e0e12"/>
<path d="M436.7 114.1L438.9 116.3L436.7 118.5L434.5 116.3Z" fill="#2e0e12"/>
<path d="M435 115.6L437.2 117.8L435 120L432.8 117.8Z" fill="#2e0e12"/>
<circle cx="478" cy="109.4" r="1.55" fill="#3a3c44" stroke="#000" stroke-width="0.9"/>
<circle cx="482.6" cy="110.9" r="1.55" fill="#3a3c44" stroke="#000" stroke-width="0.9"/>
<circle cx="476.5" cy="118.5" r="1.55" fill="#3a3c44" stroke="#000" stroke-width="0.9"/>
<circle cx="479" cy="119.2" r="1.55" fill="#3a3c44" stroke="#000" stroke-width="0.9"/>
<circle cx="481.5" cy="119.2" r="1.55" fill="#3a3c44" stroke="#000" stroke-width="0.9"/>
<circle cx="484" cy="118.5" r="1.55" fill="#3a3c44" stroke="#000" stroke-width="0.9"/>
<circle cx="480" cy="117.5" r="1.55" fill="#3a3c44" stroke="#000" stroke-width="0.9"/>
<circle cx="495.3" cy="103.5" r="1.55" fill="#3a3c44" stroke="#000" stroke-width="0.9"/>
<circle cx="504.4" cy="105.6" r="1.55" fill="#3a3c44" stroke="#000" stroke-width="0.9"/>
<circle cx="499.6" cy="108" r="1.55" fill="#3a3c44" stroke="#000" stroke-width="0.9"/>
<circle cx="495.3" cy="114.2" r="1.55" fill="#3a3c44" stroke="#000" stroke-width="0.9"/>
<circle cx="499.6" cy="114.2" r="1.55" fill="#3a3c44" stroke="#000" stroke-width="0.9"/>
<circle cx="504.4" cy="113.3" r="1.55" fill="#3a3c44" stroke="#000" stroke-width="0.9"/>
<circle cx="505.4" cy="117.1" r="1.55" fill="#3a3c44" stroke="#000" stroke-width="0.9"/>
<circle cx="493.8" cy="117.6" r="1.55" fill="#3a3c44" stroke="#000" stroke-width="0.9"/>
<circle cx="499.6" cy="118.8" r="1.55" fill="#3a3c44" stroke="#000" stroke-width="0.9"/>
<polyline points="434.5,58.9 434.5,56.2 455,56.2 455,58.9" fill="none" stroke="#000" stroke-width="1.1"/>
<text x="444.8" y="56.2" font-size="7" text-anchor="middle" font-weight="normal" fill="#222">**</text>
<polyline points="454.8,52.5 454.8,49.8 500.2,49.8 500.2,52.5" fill="none" stroke="#000" stroke-width="1.1"/>
<text x="477.7" y="49.7" font-size="7" text-anchor="middle" font-weight="normal" fill="#222">**</text>
<polyline points="480.2,68.3 480.2,65.6 500.2,65.6 500.2,68.3" fill="none" stroke="#000" stroke-width="1.1"/>
<text x="490" y="65.5" font-size="7" text-anchor="middle" font-weight="normal" fill="#222">**</text>
<text x="437.5" y="131.6" font-size="8.2" text-anchor="end" font-weight="normal" fill="#2a2a2a" transform="rotate(-45 437.5 131.6)">No Ab</text>
<text x="457" y="131.6" font-size="8.2" text-anchor="end" font-weight="normal" fill="#2a2a2a" transform="rotate(-45 457 131.6)">CD19/CD3</text>
<text x="483" y="131.6" font-size="8.2" text-anchor="end" font-weight="normal" fill="#2a2a2a" transform="rotate(-45 483 131.6)">No Ab</text>
<text x="502.2" y="131.6" font-size="8.2" text-anchor="end" font-weight="normal" fill="#2a2a2a" transform="rotate(-45 502.2 131.6)">CD19/CD3</text>
<line x1="430.5" y1="164.3" x2="458.8" y2="164.3" stroke="#3a3a3a" stroke-width="1.4" stroke-linecap="butt"/>
<text x="444.65" y="175.8" font-size="8.2" text-anchor="middle" font-weight="normal" fill="#2a2a2a">IB</text>
<line x1="476.2" y1="164.3" x2="503.8" y2="164.3" stroke="#3a3a3a" stroke-width="1.4" stroke-linecap="butt"/>
<text x="490" y="175.8" font-size="8.2" text-anchor="middle" font-weight="normal" fill="#2a2a2a">TN</text>
<text x="109" y="204.3" font-size="8.4" text-anchor="middle" font-weight="normal" fill="#2a2a2a" textLength="20.2" lengthAdjust="spacingAndGlyphs">Day 3</text>
<line x1="40.3" y1="226.5" x2="40.3" y2="320.8" stroke="#000" stroke-width="1.4" stroke-linecap="butt"/>
<line x1="37" y1="229" x2="40.3" y2="229" stroke="#000" stroke-width="1.3" stroke-linecap="butt"/>
<text x="34" y="232" font-size="9" text-anchor="end" font-weight="normal" fill="#2a2a2a" textLength="12.9" lengthAdjust="spacingAndGlyphs">100</text>
<line x1="37" y1="244.2" x2="40.3" y2="244.2" stroke="#000" stroke-width="1.3" stroke-linecap="butt"/>
<text x="34" y="247.2" font-size="9" text-anchor="end" font-weight="normal" fill="#2a2a2a" textLength="8.6" lengthAdjust="spacingAndGlyphs">75</text>
<line x1="37" y1="259.4" x2="40.3" y2="259.4" stroke="#000" stroke-width="1.3" stroke-linecap="butt"/>
<text x="34" y="262.4" font-size="9" text-anchor="end" font-weight="normal" fill="#2a2a2a" textLength="8.6" lengthAdjust="spacingAndGlyphs">50</text>
<line x1="37" y1="274.6" x2="40.3" y2="274.6" stroke="#000" stroke-width="1.3" stroke-linecap="butt"/>
<text x="34" y="277.6" font-size="9" text-anchor="end" font-weight="normal" fill="#2a2a2a" textLength="8.6" lengthAdjust="spacingAndGlyphs">25</text>
<line x1="37" y1="289.8" x2="40.3" y2="289.8" stroke="#000" stroke-width="1.3" stroke-linecap="butt"/>
<text x="34" y="292.8" font-size="9" text-anchor="end" font-weight="normal" fill="#2a2a2a" textLength="4.3" lengthAdjust="spacingAndGlyphs">0</text>
<line x1="37" y1="305" x2="40.3" y2="305" stroke="#000" stroke-width="1.3" stroke-linecap="butt"/>
<text x="34" y="308" font-size="9" text-anchor="end" font-weight="normal" fill="#2a2a2a" textLength="11.4" lengthAdjust="spacingAndGlyphs">-25</text>
<line x1="37" y1="320.2" x2="40.3" y2="320.2" stroke="#000" stroke-width="1.3" stroke-linecap="butt"/>
<text x="34" y="323.2" font-size="9" text-anchor="end" font-weight="normal" fill="#2a2a2a" textLength="11.4" lengthAdjust="spacingAndGlyphs">-50</text>
<line x1="40.3" y1="290" x2="178.8" y2="290" stroke="#2a2a2a" stroke-width="1.6" stroke-linecap="butt" stroke-dasharray="1.3 1.0"/>
<line x1="40.3" y1="320.2" x2="171.5" y2="320.2" stroke="#000" stroke-width="1.4" stroke-linecap="butt"/>
<line x1="62.4" y1="320.2" x2="62.4" y2="322.8" stroke="#000" stroke-width="1" stroke-linecap="butt"/>
<line x1="90.6" y1="320.2" x2="90.6" y2="322.8" stroke="#000" stroke-width="1" stroke-linecap="butt"/>
<line x1="127.4" y1="320.2" x2="127.4" y2="322.8" stroke="#000" stroke-width="1" stroke-linecap="butt"/>
<line x1="154.8" y1="320.2" x2="154.8" y2="322.8" stroke="#000" stroke-width="1" stroke-linecap="butt"/>
<line x1="62.75" y1="289.3" x2="62.75" y2="292" stroke="#000" stroke-width="1.2" stroke-linecap="butt"/>
<line x1="62.75" y1="309.3" x2="62.75" y2="315.1" stroke="#000" stroke-width="1.2" stroke-linecap="butt"/>
<line x1="58.75" y1="289.3" x2="66.75" y2="289.3" stroke="#000" stroke-width="1.2" stroke-linecap="butt"/>
<line x1="58.75" y1="315.1" x2="66.75" y2="315.1" stroke="#000" stroke-width="1.2" stroke-linecap="butt"/>
<rect x="52.3" y="292" width="20.9" height="17.3" fill="none" stroke="#000" stroke-width="1.15"/>
<line x1="52.3" y1="293.4" x2="73.2" y2="293.4" stroke="#000" stroke-width="1.1" stroke-linecap="butt"/>
<line x1="90.85" y1="231.1" x2="90.85" y2="236.8" stroke="#000" stroke-width="1.2" stroke-linecap="butt"/>
<line x1="90.85" y1="286.7" x2="90.85" y2="290.9" stroke="#000" stroke-width="1.2" stroke-linecap="butt"/>
<line x1="85.85" y1="231.1" x2="95.85" y2="231.1" stroke="#000" stroke-width="1.2" stroke-linecap="butt"/>
<line x1="85.85" y1="290.9" x2="95.85" y2="290.9" stroke="#000" stroke-width="1.2" stroke-linecap="butt"/>
<rect x="80.7" y="236.8" width="20.3" height="49.9" fill="none" stroke="#000" stroke-width="1.15"/>
<line x1="80.7" y1="267.6" x2="101" y2="267.6" stroke="#000" stroke-width="1.1" stroke-linecap="butt"/>
<line x1="126.95" y1="290.3" x2="126.95" y2="291.7" stroke="#000" stroke-width="1.2" stroke-linecap="butt"/>
<line x1="126.95" y1="304.6" x2="126.95" y2="318.5" stroke="#000" stroke-width="1.2" stroke-linecap="butt"/>
<line x1="121.95" y1="290.3" x2="131.95" y2="290.3" stroke="#000" stroke-width="1.2" stroke-linecap="butt"/>
<line x1="121.95" y1="318.5" x2="131.95" y2="318.5" stroke="#000" stroke-width="1.2" stroke-linecap="butt"/>
<rect x="116.7" y="291.7" width="20.5" height="12.9" fill="none" stroke="#000" stroke-width="1.15"/>
<line x1="116.7" y1="300.7" x2="137.2" y2="300.7" stroke="#000" stroke-width="1.1" stroke-linecap="butt"/>
<line x1="155.1" y1="252" x2="155.1" y2="281.5" stroke="#000" stroke-width="1.2" stroke-linecap="butt"/>
<line x1="155.1" y1="300.4" x2="155.1" y2="308.4" stroke="#000" stroke-width="1.2" stroke-linecap="butt"/>
<line x1="150.1" y1="252" x2="160.1" y2="252" stroke="#000" stroke-width="1.2" stroke-linecap="butt"/>
<line x1="150.1" y1="308.4" x2="160.1" y2="308.4" stroke="#000" stroke-width="1.2" stroke-linecap="butt"/>
<rect x="144.5" y="281.5" width="21.2" height="18.9" fill="none" stroke="#000" stroke-width="1.15"/>
<line x1="144.5" y1="290.3" x2="165.7" y2="290.3" stroke="#000" stroke-width="1.1" stroke-linecap="butt"/>
<path d="M73.7 286.8L75.9 289L73.7 291.2L71.5 289Z" fill="#1a0a0c"/>
<path d="M53.7 289.8L55.9 292L53.7 294.2L51.5 292Z" fill="#1a0a0c"/>
<path d="M58 288.5L60.2 290.7L58 292.9L55.8 290.7Z" fill="#1a0a0c"/>
<path d="M64.1 288.5L66.3 290.7L64.1 292.9L61.9 290.7Z" fill="#1a0a0c"/>
<path d="M59.8 293.2L62 295.4L59.8 297.6L57.6 295.4Z" fill="#1a0a0c"/>
<path d="M65.5 296.7L67.7 298.9L65.5 301.1L63.3 298.9Z" fill="#1a0a0c"/>
<path d="M53.7 307.1L55.9 309.3L53.7 311.5L51.5 309.3Z" fill="#1a0a0c"/>
<path d="M65.5 308.4L67.7 310.6L65.5 312.8L63.3 310.6Z" fill="#1a0a0c"/>
<path d="M71.1 307.1L73.3 309.3L71.1 311.5L68.9 309.3Z" fill="#1a0a0c"/>
<path d="M59.8 312.9L62 315.1L59.8 317.3L57.6 315.1Z" fill="#1a0a0c"/>
<path d="M99.3 229.4L101.5 231.6L99.3 233.8L97.1 231.6Z" fill="#1a0a0c"/>
<path d="M81.9 233.2L84.1 235.4L81.9 237.6L79.7 235.4Z" fill="#1a0a0c"/>
<path d="M87.6 235.8L89.8 238L87.6 240.2L85.4 238Z" fill="#1a0a0c"/>
<path d="M92 234.6L94.2 236.8L92 239L89.8 236.8Z" fill="#1a0a0c"/>
<path d="M90.6 244.5L92.8 246.7L90.6 248.9L88.4 246.7Z" fill="#1a0a0c"/>
<path d="M90.6 253.2L92.8 255.4L90.6 257.6L88.4 255.4Z" fill="#1a0a0c"/>
<path d="M86.7 278.1L88.9 280.3L86.7 282.5L84.5 280.3Z" fill="#1a0a0c"/>
<path d="M94.2 279.8L96.4 282L94.2 284.2L92 282Z" fill="#1a0a0c"/>
<path d="M81.9 284.5L84.1 286.7L81.9 288.9L79.7 286.7Z" fill="#1a0a0c"/>
<path d="M99.8 283.7L102 285.9L99.8 288.1L97.6 285.9Z" fill="#1a0a0c"/>
<path d="M87.6 288.9L89.8 291.1L87.6 293.3L85.4 291.1Z" fill="#1a0a0c"/>
<path d="M92 286.3L94.2 288.5L92 290.7L89.8 288.5Z" fill="#1a0a0c"/>
<circle cx="120.4" cy="290.3" r="1.55" fill="#3a3c44" stroke="#000" stroke-width="0.9"/>
<circle cx="129.5" cy="290.3" r="1.55" fill="#3a3c44" stroke="#000" stroke-width="0.9"/>
<circle cx="135.1" cy="291" r="1.55" fill="#3a3c44" stroke="#000" stroke-width="0.9"/>
<circle cx="123.9" cy="294.4" r="1.55" fill="#3a3c44" stroke="#000" stroke-width="0.9"/>
<circle cx="130.2" cy="296.8" r="1.55" fill="#3a3c44" stroke="#000" stroke-width="0.9"/>
<circle cx="118.4" cy="299.3" r="1.55" fill="#3a3c44" stroke="#000" stroke-width="0.9"/>
<circle cx="122.5" cy="301.4" r="1.55" fill="#3a3c44" stroke="#000" stroke-width="0.9"/>
<circle cx="131.6" cy="302.1" r="1.55" fill="#3a3c44" stroke="#000" stroke-width="0.9"/>
<circle cx="135.1" cy="301.4" r="1.55" fill="#3a3c44" stroke="#000" stroke-width="0.9"/>
<circle cx="125" cy="306.3" r="1.55" fill="#3a3c44" stroke="#000" stroke-width="0.9"/>
<circle cx="129.5" cy="311.6" r="1.55" fill="#3a3c44" stroke="#000" stroke-width="0.9"/>
<circle cx="126.7" cy="318.5" r="1.55" fill="#3a3c44" stroke="#000" stroke-width="0.9"/>
<circle cx="154.8" cy="252" r="1.55" fill="#3a3c44" stroke="#000" stroke-width="0.9"/>
<circle cx="151.8" cy="277.7" r="1.55" fill="#3a3c44" stroke="#000" stroke-width="0.9"/>
<circle cx="157.4" cy="275.9" r="1.55" fill="#3a3c44" stroke="#000" stroke-width="0.9"/>
<circle cx="149.7" cy="282.6" r="1.55" fill="#3a3c44" stroke="#000" stroke-width="0.9"/>
<circle cx="154.8" cy="284.7" r="1.55" fill="#3a3c44" stroke="#000" stroke-width="0.9"/>
<circle cx="160.4" cy="281.9" r="1.55" fill="#3a3c44" stroke="#000" stroke-width="0.9"/>
<circle cx="152.5" cy="291" r="1.55" fill="#3a3c44" stroke="#000" stroke-width="0.9"/>
<circle cx="157.6" cy="289.3" r="1.55" fill="#3a3c44" stroke="#000" stroke-width="0.9"/>
<circle cx="146.5" cy="296.8" r="1.55" fill="#3a3c44" stroke="#000" stroke-width="0.9"/>
<circle cx="151.8" cy="301.4" r="1.55" fill="#3a3c44" stroke="#000" stroke-width="0.9"/>
<circle cx="157.4" cy="301.8" r="1.55" fill="#3a3c44" stroke="#000" stroke-width="0.9"/>
<circle cx="159.4" cy="301.4" r="1.55" fill="#3a3c44" stroke="#000" stroke-width="0.9"/>
<circle cx="152.5" cy="308.4" r="1.55" fill="#3a3c44" stroke="#000" stroke-width="0.9"/>
<circle cx="157.6" cy="307.4" r="1.55" fill="#3a3c44" stroke="#000" stroke-width="0.9"/>
<polyline points="63.8,229 63.8,226.3 90.6,226.3 90.6,229" fill="none" stroke="#000" stroke-width="1.1"/>
<text x="77" y="225.8" font-size="7" text-anchor="middle" font-weight="normal" fill="#222">***</text>
<polyline points="90.6,223.1 90.6,220.4 154.5,220.4 154.5,223.1" fill="none" stroke="#000" stroke-width="1.1"/>
<text x="122.8" y="220.5" font-size="7" text-anchor="middle" font-weight="normal" fill="#222">**</text>
<polyline points="127.5,234.7 127.5,232 154.5,232 154.5,234.7" fill="none" stroke="#000" stroke-width="1.1"/>
<text x="141.2" y="229.9" font-size="6.9" text-anchor="middle" font-weight="normal" fill="#2a2a2a">ns</text>
<text x="65" y="331.8" font-size="8.2" text-anchor="end" font-weight="normal" fill="#2a2a2a" transform="rotate(-45 65 331.8)">H2/CD3</text>
<text x="93.2" y="331.8" font-size="8.2" text-anchor="end" font-weight="normal" fill="#2a2a2a" transform="rotate(-45 93.2 331.8)">CD19/CD3</text>
<text x="130" y="331.8" font-size="8.2" text-anchor="end" font-weight="normal" fill="#2a2a2a" transform="rotate(-45 130 331.8)">H2/CD3</text>
<text x="157.4" y="331.8" font-size="8.2" text-anchor="end" font-weight="normal" fill="#2a2a2a" transform="rotate(-45 157.4 331.8)">CD19/CD3</text>
<line x1="48.8" y1="363.8" x2="104.6" y2="363.8" stroke="#3a3a3a" stroke-width="1.4" stroke-linecap="butt"/>
<text x="76.7" y="375.2" font-size="8.2" text-anchor="middle" font-weight="normal" fill="#2a2a2a">IB</text>
<line x1="113.8" y1="363.8" x2="168.8" y2="363.8" stroke="#3a3a3a" stroke-width="1.4" stroke-linecap="butt"/>
<text x="141.3" y="375.2" font-size="8.2" text-anchor="middle" font-weight="normal" fill="#2a2a2a">TN</text>
<text x="15.1" y="273.4" font-size="9.6" text-anchor="middle" font-weight="normal" fill="#2a2a2a" transform="rotate(-90 15.1 273.4)" textLength="70" lengthAdjust="spacingAndGlyphs">% CLL specific killing</text>
<text x="270" y="204.3" font-size="8.4" text-anchor="middle" font-weight="normal" fill="#2a2a2a" textLength="20.2" lengthAdjust="spacingAndGlyphs">Day 7</text>
<line x1="201.3" y1="226.5" x2="201.3" y2="320.9" stroke="#000" stroke-width="1.4" stroke-linecap="butt"/>
<line x1="198" y1="229" x2="201.3" y2="229" stroke="#000" stroke-width="1.3" stroke-linecap="butt"/>
<text x="195.7" y="232" font-size="9" text-anchor="end" font-weight="normal" fill="#2a2a2a" textLength="12.9" lengthAdjust="spacingAndGlyphs">100</text>
<line x1="198" y1="244.2" x2="201.3" y2="244.2" stroke="#000" stroke-width="1.3" stroke-linecap="butt"/>
<text x="195.7" y="247.2" font-size="9" text-anchor="end" font-weight="normal" fill="#2a2a2a" textLength="8.6" lengthAdjust="spacingAndGlyphs">75</text>
<line x1="198" y1="259.4" x2="201.3" y2="259.4" stroke="#000" stroke-width="1.3" stroke-linecap="butt"/>
<text x="195.7" y="262.4" font-size="9" text-anchor="end" font-weight="normal" fill="#2a2a2a" textLength="8.6" lengthAdjust="spacingAndGlyphs">50</text>
<line x1="198" y1="274.6" x2="201.3" y2="274.6" stroke="#000" stroke-width="1.3" stroke-linecap="butt"/>
<text x="195.7" y="277.6" font-size="9" text-anchor="end" font-weight="normal" fill="#2a2a2a" textLength="8.6" lengthAdjust="spacingAndGlyphs">25</text>
<line x1="198" y1="289.8" x2="201.3" y2="289.8" stroke="#000" stroke-width="1.3" stroke-linecap="butt"/>
<text x="195.7" y="292.8" font-size="9" text-anchor="end" font-weight="normal" fill="#2a2a2a" textLength="4.3" lengthAdjust="spacingAndGlyphs">0</text>
<line x1="198" y1="305" x2="201.3" y2="305" stroke="#000" stroke-width="1.3" stroke-linecap="butt"/>
<text x="195.7" y="308" font-size="9" text-anchor="end" font-weight="normal" fill="#2a2a2a" textLength="11.4" lengthAdjust="spacingAndGlyphs">-25</text>
<line x1="198" y1="320.2" x2="201.3" y2="320.2" stroke="#000" stroke-width="1.3" stroke-linecap="butt"/>
<text x="195.7" y="323.2" font-size="9" text-anchor="end" font-weight="normal" fill="#2a2a2a" textLength="11.4" lengthAdjust="spacingAndGlyphs">-50</text>
<line x1="201.3" y1="290" x2="340" y2="290" stroke="#2a2a2a" stroke-width="1.6" stroke-linecap="butt" stroke-dasharray="1.3 1.0"/>
<line x1="201.3" y1="320.5" x2="339.5" y2="320.5" stroke="#000" stroke-width="1.4" stroke-linecap="butt"/>
<line x1="224.5" y1="320.5" x2="224.5" y2="323.1" stroke="#000" stroke-width="1" stroke-linecap="butt"/>
<line x1="251.8" y1="320.5" x2="251.8" y2="323.1" stroke="#000" stroke-width="1" stroke-linecap="butt"/>
<line x1="288.1" y1="320.5" x2="288.1" y2="323.1" stroke="#000" stroke-width="1" stroke-linecap="butt"/>
<line x1="316.3" y1="320.5" x2="316.3" y2="323.1" stroke="#000" stroke-width="1" stroke-linecap="butt"/>
<line x1="223.95" y1="278.9" x2="223.95" y2="283.8" stroke="#000" stroke-width="1.2" stroke-linecap="butt"/>
<line x1="223.95" y1="295.4" x2="223.95" y2="313.7" stroke="#000" stroke-width="1.2" stroke-linecap="butt"/>
<line x1="219.95" y1="278.9" x2="227.95" y2="278.9" stroke="#000" stroke-width="1.2" stroke-linecap="butt"/>
<line x1="219.95" y1="313.7" x2="227.95" y2="313.7" stroke="#000" stroke-width="1.2" stroke-linecap="butt"/>
<rect x="213.3" y="283.8" width="21.3" height="11.6" fill="none" stroke="#000" stroke-width="1.15"/>
<line x1="213.3" y1="290.7" x2="234.6" y2="290.7" stroke="#000" stroke-width="1.1" stroke-linecap="butt"/>
<line x1="251.95" y1="232.3" x2="251.95" y2="232.3" stroke="#000" stroke-width="1.2" stroke-linecap="butt"/>
<line x1="251.95" y1="245.5" x2="251.95" y2="274" stroke="#000" stroke-width="1.2" stroke-linecap="butt"/>
<line x1="246.95" y1="232.3" x2="256.95" y2="232.3" stroke="#000" stroke-width="1.2" stroke-linecap="butt"/>
<line x1="246.95" y1="274" x2="256.95" y2="274" stroke="#000" stroke-width="1.2" stroke-linecap="butt"/>
<rect x="241.5" y="232.3" width="20.9" height="13.2" fill="none" stroke="#000" stroke-width="1.15"/>
<line x1="241.5" y1="232.8" x2="262.4" y2="232.8" stroke="#000" stroke-width="1.1" stroke-linecap="butt"/>
<line x1="288" y1="280.3" x2="288" y2="285" stroke="#000" stroke-width="1.2" stroke-linecap="butt"/>
<line x1="288" y1="299.4" x2="288" y2="312.3" stroke="#000" stroke-width="1.2" stroke-linecap="butt"/>
<line x1="283.5" y1="280.3" x2="292.5" y2="280.3" stroke="#000" stroke-width="1.2" stroke-linecap="butt"/>
<line x1="283.5" y1="312.3" x2="292.5" y2="312.3" stroke="#000" stroke-width="1.2" stroke-linecap="butt"/>
<rect x="277.3" y="285" width="21.4" height="14.4" fill="none" stroke="#000" stroke-width="1.15"/>
<line x1="277.3" y1="287.6" x2="298.7" y2="287.6" stroke="#000" stroke-width="1.1" stroke-linecap="butt"/>
<line x1="316.55" y1="231.6" x2="316.55" y2="235.8" stroke="#000" stroke-width="1.2" stroke-linecap="butt"/>
<line x1="316.55" y1="269.9" x2="316.55" y2="296" stroke="#000" stroke-width="1.2" stroke-linecap="butt"/>
<line x1="311.55" y1="231.6" x2="321.55" y2="231.6" stroke="#000" stroke-width="1.2" stroke-linecap="butt"/>
<line x1="311.55" y1="296" x2="321.55" y2="296" stroke="#000" stroke-width="1.2" stroke-linecap="butt"/>
<rect x="305.7" y="235.8" width="21.7" height="34.1" fill="none" stroke="#000" stroke-width="1.15"/>
<line x1="305.7" y1="248.5" x2="327.4" y2="248.5" stroke="#000" stroke-width="1.1" stroke-linecap="butt"/>
<path d="M216.3 277.6L218.5 279.8L216.3 282L214.1 279.8Z" fill="#1a0a0c"/>
<path d="M230.7 275.8L232.9 278L230.7 280.2L228.5 278Z" fill="#1a0a0c"/>
<path d="M225.9 280.5L228.1 282.7L225.9 284.9L223.7 282.7Z" fill="#1a0a0c"/>
<path d="M223.3 279.3L225.5 281.5L223.3 283.7L221.1 281.5Z" fill="#1a0a0c"/>
<path d="M215.4 288.5L217.6 290.7L215.4 292.9L213.2 290.7Z" fill="#1a0a0c"/>
<path d="M220.3 288.9L222.5 291.1L220.3 293.3L218.1 291.1Z" fill="#1a0a0c"/>
<path d="M227.3 288.9L229.5 291.1L227.3 293.3L225.1 291.1Z" fill="#1a0a0c"/>
<path d="M230.7 288.9L232.9 291.1L230.7 293.3L228.5 291.1Z" fill="#1a0a0c"/>
<path d="M224.5 294.5L226.7 296.7L224.5 298.9L222.3 296.7Z" fill="#1a0a0c"/>
<path d="M220.3 311.8L222.5 314L220.3 316.2L218.1 314Z" fill="#1a0a0c"/>
<path d="M227.3 308.4L229.5 310.6L227.3 312.8L225.1 310.6Z" fill="#1a0a0c"/>
<path d="M243.5 230.1L245.7 232.3L243.5 234.5L241.3 232.3Z" fill="#1a0a0c"/>
<path d="M247 230.1L249.2 232.3L247 234.5L244.8 232.3Z" fill="#1a0a0c"/>
<path d="M250 230.1L252.2 232.3L250 234.5L247.8 232.3Z" fill="#1a0a0c"/>
<path d="M253 230.1L255.2 232.3L253 234.5L250.8 232.3Z" fill="#1a0a0c"/>
<path d="M256 230.1L258.2 232.3L256 234.5L253.8 232.3Z" fill="#1a0a0c"/>
<path d="M259 230.1L261.2 232.3L259 234.5L256.8 232.3Z" fill="#1a0a0c"/>
<path d="M245 239.3L247.2 241.5L245 243.7L242.8 241.5Z" fill="#1a0a0c"/>
<path d="M255.4 238.8L257.6 241L255.4 243.2L253.2 241Z" fill="#1a0a0c"/>
<path d="M248.5 245.4L250.7 247.6L248.5 249.8L246.3 247.6Z" fill="#1a0a0c"/>
<path d="M255.4 247.1L257.6 249.3L255.4 251.5L253.2 249.3Z" fill="#1a0a0c"/>
<path d="M251.6 271.8L253.8 274L251.6 276.2L249.4 274Z" fill="#1a0a0c"/>
<circle cx="296.4" cy="280.7" r="1.55" fill="#3a3c44" stroke="#000" stroke-width="0.9"/>
<circle cx="283" cy="284.1" r="1.55" fill="#3a3c44" stroke="#000" stroke-width="0.9"/>
<circle cx="290.9" cy="284.1" r="1.55" fill="#3a3c44" stroke="#000" stroke-width="0.9"/>
<circle cx="279.6" cy="288.5" r="1.55" fill="#3a3c44" stroke="#000" stroke-width="0.9"/>
<circle cx="285.7" cy="289.7" r="1.55" fill="#3a3c44" stroke="#000" stroke-width="0.9"/>
<circle cx="291.7" cy="290.7" r="1.55" fill="#3a3c44" stroke="#000" stroke-width="0.9"/>
<circle cx="296.1" cy="289.7" r="1.55" fill="#3a3c44" stroke="#000" stroke-width="0.9"/>
<circle cx="282.5" cy="293.7" r="1.55" fill="#3a3c44" stroke="#000" stroke-width="0.9"/>
<circle cx="293.5" cy="294.2" r="1.55" fill="#3a3c44" stroke="#000" stroke-width="0.9"/>
<circle cx="288.3" cy="305.9" r="1.55" fill="#3a3c44" stroke="#000" stroke-width="0.9"/>
<circle cx="290.9" cy="308.5" r="1.55" fill="#3a3c44" stroke="#000" stroke-width="0.9"/>
<circle cx="285.7" cy="312.3" r="1.55" fill="#3a3c44" stroke="#000" stroke-width="0.9"/>
<circle cx="307.4" cy="231.6" r="1.55" fill="#3a3c44" stroke="#000" stroke-width="0.9"/>
<circle cx="321.8" cy="231.1" r="1.55" fill="#3a3c44" stroke="#000" stroke-width="0.9"/>
<circle cx="310.3" cy="236.3" r="1.55" fill="#3a3c44" stroke="#000" stroke-width="0.9"/>
<circle cx="316.1" cy="236.8" r="1.55" fill="#3a3c44" stroke="#000" stroke-width="0.9"/>
<circle cx="321.8" cy="237.2" r="1.55" fill="#3a3c44" stroke="#000" stroke-width="0.9"/>
<circle cx="316.1" cy="244.5" r="1.55" fill="#3a3c44" stroke="#000" stroke-width="0.9"/>
<circle cx="313.5" cy="254.6" r="1.55" fill="#3a3c44" stroke="#000" stroke-width="0.9"/>
<circle cx="319.6" cy="252.5" r="1.55" fill="#3a3c44" stroke="#000" stroke-width="0.9"/>
<circle cx="313.5" cy="267.6" r="1.55" fill="#3a3c44" stroke="#000" stroke-width="0.9"/>
<circle cx="319.6" cy="267.6" r="1.55" fill="#3a3c44" stroke="#000" stroke-width="0.9"/>
<circle cx="316.1" cy="276.3" r="1.55" fill="#3a3c44" stroke="#000" stroke-width="0.9"/>
<circle cx="316.1" cy="285.5" r="1.55" fill="#3a3c44" stroke="#000" stroke-width="0.9"/>
<circle cx="316.1" cy="296" r="1.55" fill="#3a3c44" stroke="#000" stroke-width="0.9"/>
<polyline points="223.8,227.2 223.8,224.5 251.3,224.5 251.3,227.2" fill="none" stroke="#000" stroke-width="1.1"/>
<text x="237.5" y="224" font-size="7" text-anchor="middle" font-weight="normal" fill="#222">***</text>
<polyline points="251.3,219.7 251.3,217 317.5,217 317.5,219.7" fill="none" stroke="#000" stroke-width="1.1"/>
<text x="283.8" y="215" font-size="6.9" text-anchor="middle" font-weight="normal" fill="#2a2a2a">ns</text>
<polyline points="288.8,227.7 288.8,225 317.5,225 317.5,227.7" fill="none" stroke="#000" stroke-width="1.1"/>
<text x="303" y="225" font-size="7" text-anchor="middle" font-weight="normal" fill="#222">***</text>
<text x="227.1" y="331.8" font-size="8.2" text-anchor="end" font-weight="normal" fill="#2a2a2a" transform="rotate(-45 227.1 331.8)">H2/CD3</text>
<text x="254.4" y="331.8" font-size="8.2" text-anchor="end" font-weight="normal" fill="#2a2a2a" transform="rotate(-45 254.4 331.8)">CD19/CD3</text>
<text x="290.7" y="331.8" font-size="8.2" text-anchor="end" font-weight="normal" fill="#2a2a2a" transform="rotate(-45 290.7 331.8)">H2/CD3</text>
<text x="318.9" y="331.8" font-size="8.2" text-anchor="end" font-weight="normal" fill="#2a2a2a" transform="rotate(-45 318.9 331.8)">CD19/CD3</text>
<line x1="210" y1="363.7" x2="265.4" y2="363.7" stroke="#3a3a3a" stroke-width="1.4" stroke-linecap="butt"/>
<text x="237.7" y="375" font-size="8.2" text-anchor="middle" font-weight="normal" fill="#2a2a2a">IB</text>
<line x1="273.7" y1="363.7" x2="330" y2="363.7" stroke="#3a3a3a" stroke-width="1.4" stroke-linecap="butt"/>
<text x="301.85" y="375" font-size="8.2" text-anchor="middle" font-weight="normal" fill="#2a2a2a">TN</text>
<line x1="40" y1="427.7" x2="40" y2="525.9" stroke="#000" stroke-width="1.4" stroke-linecap="butt"/>
<line x1="36.7" y1="430" x2="40" y2="430" stroke="#000" stroke-width="1.3" stroke-linecap="butt"/>
<text x="33.8" y="433" font-size="9" text-anchor="end" font-weight="normal" fill="#2a2a2a" textLength="12.9" lengthAdjust="spacingAndGlyphs">100</text>
<line x1="36.7" y1="461.8" x2="40" y2="461.8" stroke="#000" stroke-width="1.3" stroke-linecap="butt"/>
<text x="33.8" y="464.8" font-size="9" text-anchor="end" font-weight="normal" fill="#2a2a2a" textLength="8.6" lengthAdjust="spacingAndGlyphs">50</text>
<line x1="36.7" y1="493.6" x2="40" y2="493.6" stroke="#000" stroke-width="1.3" stroke-linecap="butt"/>
<text x="33.8" y="496.6" font-size="9" text-anchor="end" font-weight="normal" fill="#2a2a2a" textLength="4.3" lengthAdjust="spacingAndGlyphs">0</text>
<line x1="36.7" y1="525.4" x2="40" y2="525.4" stroke="#000" stroke-width="1.3" stroke-linecap="butt"/>
<text x="33.8" y="528.4" font-size="9" text-anchor="end" font-weight="normal" fill="#2a2a2a" textLength="11.4" lengthAdjust="spacingAndGlyphs">-50</text>
<line x1="38" y1="525.3" x2="192.3" y2="525.3" stroke="#000" stroke-width="1.4" stroke-linecap="butt"/>
<line x1="43.15" y1="525.3" x2="43.15" y2="527.1" stroke="#000" stroke-width="0.9" stroke-linecap="butt"/>
<line x1="49.99" y1="525.3" x2="49.99" y2="527.1" stroke="#000" stroke-width="0.9" stroke-linecap="butt"/>
<line x1="55.3" y1="525.3" x2="55.3" y2="527.1" stroke="#000" stroke-width="0.9" stroke-linecap="butt"/>
<line x1="59.64" y1="525.3" x2="59.64" y2="527.1" stroke="#000" stroke-width="0.9" stroke-linecap="butt"/>
<line x1="63.31" y1="525.3" x2="63.31" y2="527.1" stroke="#000" stroke-width="0.9" stroke-linecap="butt"/>
<line x1="66.49" y1="525.3" x2="66.49" y2="527.1" stroke="#000" stroke-width="0.9" stroke-linecap="butt"/>
<line x1="69.29" y1="525.3" x2="69.29" y2="527.1" stroke="#000" stroke-width="0.9" stroke-linecap="butt"/>
<line x1="71.8" y1="525.3" x2="71.8" y2="528.5" stroke="#000" stroke-width="0.9" stroke-linecap="butt"/>
<line x1="88.3" y1="525.3" x2="88.3" y2="527.1" stroke="#000" stroke-width="0.9" stroke-linecap="butt"/>
<line x1="97.95" y1="525.3" x2="97.95" y2="527.1" stroke="#000" stroke-width="0.9" stroke-linecap="butt"/>
<line x1="104.79" y1="525.3" x2="104.79" y2="527.1" stroke="#000" stroke-width="0.9" stroke-linecap="butt"/>
<line x1="110.1" y1="525.3" x2="110.1" y2="527.1" stroke="#000" stroke-width="0.9" stroke-linecap="butt"/>
<line x1="114.44" y1="525.3" x2="114.44" y2="527.1" stroke="#000" stroke-width="0.9" stroke-linecap="butt"/>
<line x1="118.11" y1="525.3" x2="118.11" y2="527.1" stroke="#000" stroke-width="0.9" stroke-linecap="butt"/>
<line x1="121.29" y1="525.3" x2="121.29" y2="527.1" stroke="#000" stroke-width="0.9" stroke-linecap="butt"/>
<line x1="124.09" y1="525.3" x2="124.09" y2="527.1" stroke="#000" stroke-width="0.9" stroke-linecap="butt"/>
<line x1="126.6" y1="525.3" x2="126.6" y2="528.5" stroke="#000" stroke-width="0.9" stroke-linecap="butt"/>
<line x1="143.1" y1="525.3" x2="143.1" y2="527.1" stroke="#000" stroke-width="0.9" stroke-linecap="butt"/>
<line x1="152.75" y1="525.3" x2="152.75" y2="527.1" stroke="#000" stroke-width="0.9" stroke-linecap="butt"/>
<line x1="159.59" y1="525.3" x2="159.59" y2="527.1" stroke="#000" stroke-width="0.9" stroke-linecap="butt"/>
<line x1="164.9" y1="525.3" x2="164.9" y2="527.1" stroke="#000" stroke-width="0.9" stroke-linecap="butt"/>
<line x1="169.24" y1="525.3" x2="169.24" y2="527.1" stroke="#000" stroke-width="0.9" stroke-linecap="butt"/>
<line x1="172.91" y1="525.3" x2="172.91" y2="527.1" stroke="#000" stroke-width="0.9" stroke-linecap="butt"/>
<line x1="176.09" y1="525.3" x2="176.09" y2="527.1" stroke="#000" stroke-width="0.9" stroke-linecap="butt"/>
<line x1="178.89" y1="525.3" x2="178.89" y2="527.1" stroke="#000" stroke-width="0.9" stroke-linecap="butt"/>
<line x1="181.4" y1="525.3" x2="181.4" y2="528.5" stroke="#000" stroke-width="0.9" stroke-linecap="butt"/>
<line x1="40" y1="493.7" x2="192" y2="493.7" stroke="#2a2a2a" stroke-width="1.6" stroke-linecap="butt" stroke-dasharray="1.3 1.0"/>
<text x="70.8" y="540.6" font-size="7.6" text-anchor="middle" fill="#2a2a2a">10<tspan font-size="5.2" dy="-3.2">-2</tspan></text>
<text x="125.6" y="540.6" font-size="7.6" text-anchor="middle" fill="#2a2a2a">10<tspan font-size="5.2" dy="-3.2">-1</tspan></text>
<text x="180.4" y="540.6" font-size="7.6" text-anchor="middle" fill="#2a2a2a">10<tspan font-size="5.2" dy="-3.2">0</tspan></text>
<text x="116.8" y="556" font-size="10.2" text-anchor="middle" font-weight="normal" fill="#2a2a2a" textLength="66" lengthAdjust="spacingAndGlyphs">Effector:Target ratio</text>
<text x="15.2" y="476.8" font-size="9.6" text-anchor="middle" font-weight="normal" fill="#2a2a2a" transform="rotate(-90 15.2 476.8)" textLength="70" lengthAdjust="spacingAndGlyphs">% CLL specific killing</text>
<line x1="97.7" y1="490.2" x2="186.2" y2="432.5" stroke="#000" stroke-width="1.7" stroke-linecap="butt"/>
<line x1="54.8" y1="505.6" x2="168.8" y2="485.4" stroke="#000" stroke-width="1.7" stroke-linecap="butt" stroke-dasharray="5 3"/>
<circle cx="121.2" cy="454.6" r="2.3" fill="#434b5c" stroke="#0c0f16" stroke-width="0.9"/>
<circle cx="126.5" cy="479.2" r="2.3" fill="#434b5c" stroke="#0c0f16" stroke-width="0.9"/>
<circle cx="135.8" cy="483" r="2.3" fill="#434b5c" stroke="#0c0f16" stroke-width="0.9"/>
<circle cx="133.8" cy="488.3" r="2.3" fill="#434b5c" stroke="#0c0f16" stroke-width="0.9"/>
<circle cx="142" cy="500.8" r="2.3" fill="#434b5c" stroke="#0c0f16" stroke-width="0.9"/>
<circle cx="145.8" cy="501.7" r="2.3" fill="#434b5c" stroke="#0c0f16" stroke-width="0.9"/>
<circle cx="172.3" cy="500.8" r="2.3" fill="#434b5c" stroke="#0c0f16" stroke-width="0.9"/>
<circle cx="113.5" cy="501.7" r="2.3" fill="#434b5c" stroke="#0c0f16" stroke-width="0.9"/>
<circle cx="101.5" cy="505.6" r="2.3" fill="#434b5c" stroke="#0c0f16" stroke-width="0.9"/>
<circle cx="90" cy="507" r="2.3" fill="#434b5c" stroke="#0c0f16" stroke-width="0.9"/>
<circle cx="86.5" cy="505.6" r="2.3" fill="#434b5c" stroke="#0c0f16" stroke-width="0.9"/>
<circle cx="89.4" cy="507" r="2.3" fill="#434b5c" stroke="#0c0f16" stroke-width="0.9"/>
<circle cx="72" cy="512" r="2.3" fill="#434b5c" stroke="#0c0f16" stroke-width="0.9"/>
<circle cx="77" cy="513.3" r="2.3" fill="#434b5c" stroke="#0c0f16" stroke-width="0.9"/>
<circle cx="54.4" cy="495" r="2.3" fill="#434b5c" stroke="#0c0f16" stroke-width="0.9"/>
<circle cx="122.5" cy="457" r="2.3" fill="#434b5c" stroke="#0c0f16" stroke-width="0.9"/>
<path d="M97.7 487.4L100.5 490.2L97.7 493L94.9 490.2Z" fill="#5c1628" stroke="#1a0508" stroke-width="0.85"/>
<path d="M104.4 489.3L107.2 492.1L104.4 494.9L101.6 492.1Z" fill="#5c1628" stroke="#1a0508" stroke-width="0.85"/>
<path d="M121.7 488.9L124.5 491.7L121.7 494.5L118.9 491.7Z" fill="#5c1628" stroke="#1a0508" stroke-width="0.85"/>
<path d="M127.5 492.2L130.3 495L127.5 497.8L124.7 495Z" fill="#5c1628" stroke="#1a0508" stroke-width="0.85"/>
<path d="M123.7 455.7L126.5 458.5L123.7 461.3L120.9 458.5Z" fill="#5c1628" stroke="#1a0508" stroke-width="0.85"/>
<path d="M130.8 446.4L133.6 449.2L130.8 452L128 449.2Z" fill="#5c1628" stroke="#1a0508" stroke-width="0.85"/>
<path d="M139 430.2L141.8 433L139 435.8L136.2 433Z" fill="#5c1628" stroke="#1a0508" stroke-width="0.85"/>
<path d="M140 437.4L142.8 440.2L140 443L137.2 440.2Z" fill="#5c1628" stroke="#1a0508" stroke-width="0.85"/>
<path d="M143.5 435.5L146.3 438.3L143.5 441.1L140.7 438.3Z" fill="#5c1628" stroke="#1a0508" stroke-width="0.85"/>
<path d="M186.2 434.5L189 437.3L186.2 440.1L183.4 437.3Z" fill="#5c1628" stroke="#1a0508" stroke-width="0.85"/>
<path d="M147.7 483.5L150.5 486.3L147.7 489.1L144.9 486.3Z" fill="#5c1628" stroke="#1a0508" stroke-width="0.85"/>
<path d="M140.4 482.6L143.2 485.4L140.4 488.2L137.6 485.4Z" fill="#5c1628" stroke="#1a0508" stroke-width="0.85"/>
<path d="M143.8 484.5L146.6 487.3L143.8 490.1L141 487.3Z" fill="#5c1628" stroke="#1a0508" stroke-width="0.85"/>
<path d="M136.6 482.4L139.4 485.2L136.6 488L133.8 485.2Z" fill="#5c1628" stroke="#1a0508" stroke-width="0.85"/>
<path d="M60.5 429.1L63.3 431.9L60.5 434.7L57.7 431.9Z" fill="#5a3038" stroke="#100" stroke-width="0.8"/>
<circle cx="60.5" cy="442.3" r="2.4" fill="#3a4555" stroke="#050810" stroke-width="0.8"/>
<text x="66.6" y="434.6" font-size="7.6" text-anchor="start" font-weight="normal" fill="#2a2a2a">IB</text>
<text x="66.6" y="445.2" font-size="7.6" text-anchor="start" font-weight="normal" fill="#2a2a2a">TN</text>
<text x="128.5" y="426.2" font-size="7.4" fill="#2a2a2a" textLength="50.9" lengthAdjust="spacingAndGlyphs"><tspan font-style="italic">r</tspan> = .62, <tspan font-style="italic">P</tspan> = .04</text>
<text x="118.8" y="513.1" font-size="7.4" fill="#2a2a2a" textLength="51" lengthAdjust="spacingAndGlyphs"><tspan font-style="italic">r</tspan> = .48, <tspan font-style="italic">P</tspan> = .05</text>
<line x1="241.6" y1="417.3" x2="241.6" y2="525.8" stroke="#000" stroke-width="1.4" stroke-linecap="butt"/>
<line x1="238.3" y1="420" x2="241.6" y2="420" stroke="#000" stroke-width="1.3" stroke-linecap="butt"/>
<text x="235.8" y="423" font-size="9" text-anchor="end" font-weight="normal" fill="#2a2a2a" textLength="12.9" lengthAdjust="spacingAndGlyphs">100</text>
<line x1="238.3" y1="437.5" x2="241.6" y2="437.5" stroke="#000" stroke-width="1.3" stroke-linecap="butt"/>
<text x="235.8" y="440.5" font-size="9" text-anchor="end" font-weight="normal" fill="#2a2a2a" textLength="8.6" lengthAdjust="spacingAndGlyphs">80</text>
<line x1="238.3" y1="455" x2="241.6" y2="455" stroke="#000" stroke-width="1.3" stroke-linecap="butt"/>
<text x="235.8" y="458" font-size="9" text-anchor="end" font-weight="normal" fill="#2a2a2a" textLength="8.6" lengthAdjust="spacingAndGlyphs">60</text>
<line x1="238.3" y1="472.5" x2="241.6" y2="472.5" stroke="#000" stroke-width="1.3" stroke-linecap="butt"/>
<text x="235.8" y="475.5" font-size="9" text-anchor="end" font-weight="normal" fill="#2a2a2a" textLength="8.6" lengthAdjust="spacingAndGlyphs">40</text>
<line x1="238.3" y1="490" x2="241.6" y2="490" stroke="#000" stroke-width="1.3" stroke-linecap="butt"/>
<text x="235.8" y="493" font-size="9" text-anchor="end" font-weight="normal" fill="#2a2a2a" textLength="8.6" lengthAdjust="spacingAndGlyphs">20</text>
<line x1="238.3" y1="507.5" x2="241.6" y2="507.5" stroke="#000" stroke-width="1.3" stroke-linecap="butt"/>
<text x="235.8" y="510.5" font-size="9" text-anchor="end" font-weight="normal" fill="#2a2a2a" textLength="4.3" lengthAdjust="spacingAndGlyphs">0</text>
<line x1="238.3" y1="525" x2="241.6" y2="525" stroke="#000" stroke-width="1.3" stroke-linecap="butt"/>
<text x="235.8" y="528" font-size="9" text-anchor="end" font-weight="normal" fill="#2a2a2a" textLength="11.4" lengthAdjust="spacingAndGlyphs">-20</text>
<line x1="239" y1="525.2" x2="318.5" y2="525.2" stroke="#000" stroke-width="1.4" stroke-linecap="butt"/>
<line x1="264" y1="525.2" x2="264" y2="527.8" stroke="#000" stroke-width="1" stroke-linecap="butt"/>
<line x1="296.8" y1="525.2" x2="296.8" y2="527.8" stroke="#000" stroke-width="1" stroke-linecap="butt"/>
<line x1="263.9" y1="423.7" x2="263.9" y2="430" stroke="#000" stroke-width="1.2" stroke-linecap="butt"/>
<line x1="263.9" y1="495.4" x2="263.9" y2="510.4" stroke="#000" stroke-width="1.2" stroke-linecap="butt"/>
<line x1="258.9" y1="423.7" x2="268.9" y2="423.7" stroke="#000" stroke-width="1.2" stroke-linecap="butt"/>
<line x1="258.9" y1="510.4" x2="268.9" y2="510.4" stroke="#000" stroke-width="1.2" stroke-linecap="butt"/>
<rect x="253.6" y="430" width="20.6" height="65.4" fill="none" stroke="#000" stroke-width="1.15"/>
<line x1="253.6" y1="440" x2="274.2" y2="440" stroke="#000" stroke-width="1.1" stroke-linecap="butt"/>
<line x1="297.15" y1="489" x2="297.15" y2="492.7" stroke="#000" stroke-width="1.2" stroke-linecap="butt"/>
<line x1="297.15" y1="517.1" x2="297.15" y2="517.6" stroke="#000" stroke-width="1.2" stroke-linecap="butt"/>
<line x1="293.15" y1="489" x2="301.15" y2="489" stroke="#000" stroke-width="1.2" stroke-linecap="butt"/>
<line x1="293.15" y1="517.6" x2="301.15" y2="517.6" stroke="#000" stroke-width="1.2" stroke-linecap="butt"/>
<rect x="286.6" y="492.7" width="21.1" height="24.4" fill="none" stroke="#000" stroke-width="1.15"/>
<line x1="286.6" y1="498.8" x2="307.7" y2="498.8" stroke="#000" stroke-width="1.1" stroke-linecap="butt"/>
<path d="M264.2 420.9L267 423.7L264.2 426.5L261.4 423.7Z" fill="#5c1628" stroke="#1a0508" stroke-width="0.85"/>
<path d="M257.5 427.6L260.3 430.4L257.5 433.2L254.7 430.4Z" fill="#5c1628" stroke="#1a0508" stroke-width="0.85"/>
<path d="M264.2 431.4L267 434.2L264.2 437L261.4 434.2Z" fill="#5c1628" stroke="#1a0508" stroke-width="0.85"/>
<path d="M270.6 427.6L273.4 430.4L270.6 433.2L267.8 430.4Z" fill="#5c1628" stroke="#1a0508" stroke-width="0.85"/>
<path d="M264.2 443.5L267 446.3L264.2 449.1L261.4 446.3Z" fill="#5c1628" stroke="#1a0508" stroke-width="0.85"/>
<path d="M259.8 491.2L262.6 494L259.8 496.8L257 494Z" fill="#5c1628" stroke="#1a0508" stroke-width="0.85"/>
<path d="M268.5 495.1L271.3 497.9L268.5 500.7L265.7 497.9Z" fill="#5c1628" stroke="#1a0508" stroke-width="0.85"/>
<path d="M264 507.6L266.8 510.4L264 513.2L261.2 510.4Z" fill="#5c1628" stroke="#1a0508" stroke-width="0.85"/>
<circle cx="292.9" cy="489.8" r="2.3" fill="#434b5c" stroke="#0c0f16" stroke-width="0.9"/>
<circle cx="299.6" cy="487.7" r="2.3" fill="#434b5c" stroke="#0c0f16" stroke-width="0.9"/>
<circle cx="289.4" cy="498.8" r="2.3" fill="#434b5c" stroke="#0c0f16" stroke-width="0.9"/>
<circle cx="296.7" cy="500.2" r="2.3" fill="#434b5c" stroke="#0c0f16" stroke-width="0.9"/>
<circle cx="303.5" cy="497.3" r="2.3" fill="#434b5c" stroke="#0c0f16" stroke-width="0.9"/>
<circle cx="290" cy="517.1" r="2.3" fill="#434b5c" stroke="#0c0f16" stroke-width="0.9"/>
<circle cx="296.7" cy="518" r="2.3" fill="#434b5c" stroke="#0c0f16" stroke-width="0.9"/>
<circle cx="303.5" cy="517.1" r="2.3" fill="#434b5c" stroke="#0c0f16" stroke-width="0.9"/>
<polyline points="264,418.1 264,415.4 296.3,415.4 296.3,418.1" fill="none" stroke="#000" stroke-width="1.1"/>
<text x="280.6" y="414.8" font-size="7" text-anchor="middle" font-weight="normal" fill="#222">*</text>
<text x="264" y="538.6" font-size="7.6" text-anchor="middle" font-weight="normal" fill="#2a2a2a">IB</text>
<text x="296.7" y="538.6" font-size="7.6" text-anchor="middle" font-weight="normal" fill="#2a2a2a">TN</text>
<line x1="252.5" y1="543.6" x2="303" y2="543.6" stroke="#111" stroke-width="1.3" stroke-linecap="butt"/>
<text x="261.2" y="556.6" font-size="7.8" fill="#2a2a2a">E:T &gt;10<tspan font-size="5.2" dy="-3.2">-1</tspan></text>
<text x="218.1" y="472.2" font-size="10" text-anchor="middle" font-weight="normal" fill="#2a2a2a" transform="rotate(-90 218.1 472.2)" textLength="71" lengthAdjust="spacingAndGlyphs">% CLL specific killing</text>
</svg>
</body></html>
